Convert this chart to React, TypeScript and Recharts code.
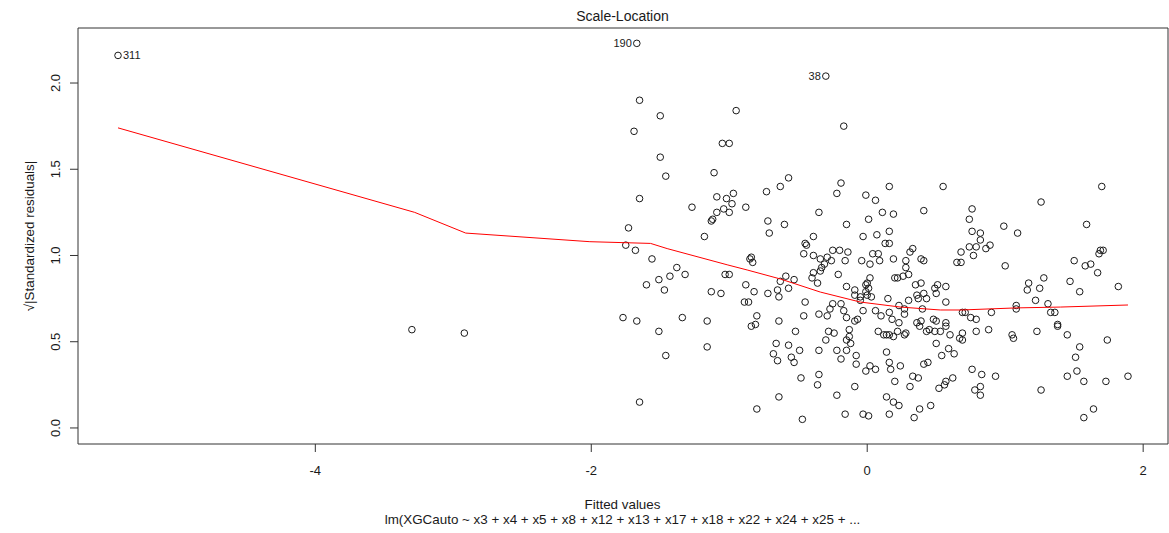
import { ScatterChart, Scatter, XAxis, YAxis, ReferenceArea } from 'recharts';

// axis setup (R-style extended ranges)
const xDomain: [number, number] = [-5.72, 2.18];
const yDomain: [number, number] = [-0.093, 2.319];
const xTicks = [-4, -2, 0, 2];
const yTicks = [0, 0.5, 1, 1.5, 2];

// observations flagged with their row number
const flagged = [
  { id: '311', x: -5.43, y: 2.16 },
  { id: '190', x: -1.67, y: 2.23 },
  { id: '38', x: -0.3, y: 2.04 },
];

// fitted value, sqrt(|standardized residual|)
const residuals: [number, number][] = [
  [-3.3, 0.57], [-2.92, 0.55],
  [-1.65, 1.9], [-1.5, 1.81], [-0.95, 1.84], [-1.69, 1.72], [-1.05, 1.65], [-1.0, 1.65], [-1.5, 1.57],
  [-1.46, 1.46], [-1.11, 1.48], [-1.65, 1.33], [-1.09, 1.34], [-1.02, 1.33], [-0.97, 1.36], [-0.73, 1.37],
  [-0.63, 1.4], [-1.27, 1.28], [-0.98, 1.3], [-0.88, 1.28], [-1.04, 1.27],
  [-0.17, 1.75], [-0.57, 1.45], [-0.19, 1.42], [-0.22, 1.36], [-0.01, 1.35], [0.06, 1.32], [0.16, 1.4],
  [0.55, 1.4], [0.41, 1.26],
  [1.7, 1.4], [1.26, 1.31], [0.76, 1.27],
  [-1.09, 1.25], [-1.0, 1.25], [-1.12, 1.21], [-1.13, 1.2], [-0.72, 1.2], [-0.71, 1.13], [-1.73, 1.16],
  [-1.18, 1.11], [-1.75, 1.06], [-1.68, 1.03], [-1.56, 0.98], [-0.85, 0.98], [-0.84, 0.99], [-0.83, 0.96],
  [-1.38, 0.93], [-1.43, 0.88], [-1.32, 0.89], [-1.51, 0.86], [-1.6, 0.83], [-1.47, 0.8], [-1.03, 0.89],
  [-1.0, 0.89], [-0.88, 0.83], [-0.82, 0.79], [-0.72, 0.78], [-0.65, 0.8], [-0.64, 0.76], [-0.63, 0.85],
  [-1.13, 0.79], [-1.06, 0.78], [-0.89, 0.73], [-0.86, 0.73], [-0.8, 0.65], [-0.81, 0.6], [-0.84, 0.59],
  [-0.64, 0.62], [-1.77, 0.64], [-1.67, 0.62], [-1.34, 0.64], [-1.16, 0.62],
  [-1.51, 0.56], [-1.46, 0.42], [-1.16, 0.47], [-0.66, 0.49], [-0.68, 0.43], [-0.65, 0.39], [-0.64, 0.18],
  [-1.65, 0.15], [-0.8, 0.11],
  [-0.52, 0.56], [-0.28, 0.56], [-0.24, 0.55], [-0.13, 0.57], [-0.13, 0.53], [-0.15, 0.51], [-0.3, 0.51],
  [-0.12, 0.49], [-0.57, 0.48], [-0.49, 0.45], [-0.35, 0.45], [-0.22, 0.45], [-0.15, 0.45], [-0.55, 0.41],
  [-0.53, 0.38], [-0.19, 0.4], [-0.08, 0.42], [-0.08, 0.37], [-0.48, 0.29], [-0.35, 0.31], [-0.36, 0.25],
  [-0.09, 0.24], [-0.22, 0.19], [-0.16, 0.08], [-0.03, 0.08], [0.01, 0.07], [-0.47, 0.05], [-0.01, 0.33],
  [0.02, 0.36], [0.06, 0.34], [0.08, 0.56], [0.12, 0.54], [0.14, 0.54], [0.16, 0.54], [0.19, 0.53],
  [0.22, 0.56], [0.27, 0.54], [0.28, 0.55], [0.14, 0.44], [0.16, 0.38], [0.17, 0.34], [0.24, 0.36],
  [0.2, 0.27], [0.14, 0.18], [0.19, 0.15], [0.23, 0.13], [0.16, 0.08], [0.34, 0.06], [0.33, 0.3],
  [0.37, 0.29], [0.31, 0.24], [0.38, 0.11], [0.46, 0.13], [0.41, 0.37], [0.44, 0.38], [0.5, 0.49],
  [0.54, 0.42], [0.59, 0.46], [0.63, 0.43], [0.6, 0.54], [0.38, 0.59], [0.43, 0.56], [0.45, 0.57],
  [0.49, 0.56], [0.53, 0.56], [0.57, 0.59], [0.67, 0.52], [0.57, 0.27], [0.56, 0.25], [0.52, 0.23],
  [0.62, 0.29],
  [0.69, 0.55], [0.69, 0.51], [0.79, 0.56], [0.88, 0.57], [1.05, 0.54], [1.06, 0.52], [1.23, 0.56],
  [1.38, 0.59], [1.45, 0.54], [1.74, 0.51], [1.54, 0.47], [1.51, 0.41], [0.76, 0.34], [0.83, 0.31],
  [0.93, 0.3], [1.45, 0.3], [1.52, 0.33], [1.57, 0.27], [1.73, 0.27], [1.89, 0.3], [0.78, 0.22],
  [0.82, 0.24], [0.82, 0.19], [1.26, 0.22], [1.64, 0.11], [1.57, 0.06],
  [0.74, 1.21], [0.76, 1.14], [0.82, 1.13], [0.82, 1.09], [0.99, 1.17], [1.09, 1.13], [0.74, 1.05],
  [0.79, 1.05], [0.86, 1.04], [0.89, 1.06], [0.77, 1.0], [0.68, 1.02], [0.68, 0.96], [1.0, 0.94],
  [1.59, 1.18], [1.68, 1.01], [1.69, 1.03], [1.71, 1.03], [1.5, 0.97], [1.58, 0.94], [1.62, 0.95],
  [1.67, 0.9], [1.28, 0.87], [1.17, 0.84], [1.16, 0.8], [1.25, 0.81], [1.47, 0.85], [1.54, 0.79],
  [1.82, 0.82], [1.22, 0.74], [1.31, 0.72], [1.08, 0.71], [1.08, 0.69], [1.33, 0.67], [1.36, 0.67],
  [0.9, 0.67], [0.71, 0.67], [0.69, 0.67], [0.75, 0.64], [0.79, 0.63], [1.38, 0.6],
  [-0.35, 1.25], [0.11, 1.25], [0.19, 1.24], [-0.6, 1.18], [-0.15, 1.18], [0.01, 1.21], [0.16, 1.14],
  [0.07, 1.12], [-0.03, 1.11], [0.13, 1.07], [0.16, 1.07], [-0.39, 1.11], [-0.45, 1.07], [-0.44, 1.06],
  [-0.46, 1.01], [-0.39, 1.0], [-0.34, 0.98], [-0.29, 0.99], [-0.25, 1.03], [-0.2, 1.03], [-0.14, 1.02],
  [-0.26, 0.97], [-0.16, 0.97], [-0.04, 0.97], [0.04, 1.01], [0.08, 1.01], [0.09, 0.97], [0.02, 0.95],
  [0.19, 0.98], [0.28, 0.97], [0.31, 1.02], [0.33, 1.04], [0.39, 0.98], [0.41, 0.97], [0.28, 0.93],
  [-0.31, 0.95], [-0.33, 0.93], [-0.34, 0.91], [-0.39, 0.9], [-0.4, 0.87], [-0.36, 0.84], [-0.59, 0.88],
  [-0.53, 0.86], [-0.57, 0.81], [-0.21, 0.89], [-0.15, 0.82], [0.02, 0.87], [0.0, 0.84], [-0.01, 0.83],
  [0.01, 0.81], [-0.09, 0.8], [-0.01, 0.79], [0.0, 0.77], [-0.09, 0.77], [-0.05, 0.76], [0.03, 0.76],
  [-0.05, 0.74], [0.2, 0.87], [0.22, 0.87], [0.26, 0.88], [0.3, 0.89], [0.35, 0.83], [0.39, 0.84],
  [0.49, 0.81], [0.51, 0.83], [0.57, 0.82], [0.41, 0.78], [0.36, 0.77], [0.37, 0.75], [0.3, 0.74],
  [0.43, 0.75], [0.5, 0.78], [0.57, 0.73], [0.15, 0.75], [0.23, 0.71], [-0.45, 0.73], [-0.25, 0.72],
  [-0.19, 0.72], [-0.17, 0.68], [-0.27, 0.69], [-0.03, 0.68], [0.06, 0.68], [0.16, 0.67], [0.27, 0.69],
  [0.27, 0.66], [0.4, 0.69], [-0.46, 0.65], [-0.35, 0.66], [-0.29, 0.65], [-0.15, 0.64], [-0.07, 0.63],
  [-0.09, 0.62], [0.1, 0.65], [0.18, 0.63], [0.23, 0.61], [0.36, 0.61], [0.39, 0.62], [0.48, 0.63],
  [0.5, 0.62], [0.57, 0.61], [0.65, 0.96],
];

// lowess smoother
const smoothX = [-5.43, -3.28, -2.91, -2.01, -1.57, -1.45, -1.01, -0.87, -0.63, -0.34, -0.05, 0.24, 0.53, 0.68, 1.08, 1.4, 1.89];
const smoothY = [1.74, 1.25, 1.13, 1.08, 1.07, 1.04, 0.945, 0.916, 0.864, 0.788, 0.73, 0.701, 0.684, 0.684, 0.696, 0.701, 0.713];

const points = residuals.map(([x, y]) => ({ x, y }));
const smooth = smoothX.map((x, i) => ({ x, y: smoothY[i] }));

const FONT = "'Liberation Sans', Arial, sans-serif";
const INK = '#1a1a1a';
const R = 3.3;

const Ring = (props: any) => (
  <circle cx={props.cx} cy={props.cy} r={R} fill="none" stroke={INK} strokeWidth={1} />
);

const FlaggedRing = (props: any) => {
  const { cx, cy, payload } = props;
  const onLeft = payload.x > (xDomain[0] + xDomain[1]) / 2;
  return (
    <g>
      <circle cx={cx} cy={cy} r={R} fill="none" stroke={INK} strokeWidth={1} />
      <text
        x={onLeft ? cx - 5 : cx + 5}
        y={cy}
        dy="0.36em"
        textAnchor={onLeft ? 'end' : 'start'}
        fontSize={11}
        fill={INK}
      >
        {payload.id}
      </text>
    </g>
  );
};

const NoDot = () => <g />;

const YTick = (props: any) => {
  const { y, payload } = props;
  return (
    <text x={60} y={y} transform={`rotate(-90 60 ${y})`} textAnchor="middle" fontSize={13} fill={INK}>
      {payload.value.toFixed(1)}
    </text>
  );
};

export default function App() {
  return (
    <div style={{ position: 'absolute', left: 0, top: 0, width: 1169, height: 533, background: '#fff', fontFamily: FONT }}>
      <ScatterChart width={1169} height={533} margin={{ top: 28, right: 1, bottom: 39, left: 0 }}>
        <XAxis
          type="number"
          dataKey="x"
          domain={xDomain}
          ticks={xTicks}
          allowDataOverflow
          axisLine={false}
          tickSize={8}
          tickMargin={14}
          height={50}
          tickLine={{ stroke: '#333' }}
          tick={{ fontSize: 13, fill: INK }}
        />
        <YAxis
          type="number"
          dataKey="y"
          domain={yDomain}
          ticks={yTicks}
          allowDataOverflow
          axisLine={false}
          tickSize={8}
          width={78}
          tickLine={{ stroke: '#333' }}
          tick={<YTick />}
        />
        <Scatter data={points} shape={<Ring />} isAnimationActive={false} />
        <Scatter data={flagged} shape={<FlaggedRing />} isAnimationActive={false} />
        <Scatter
          data={smooth}
          line={{ stroke: '#ff0000', strokeWidth: 1 }}
          lineType="joint"
          shape={<NoDot />}
          isAnimationActive={false}
        />
        <ReferenceArea x1={xDomain[0]} x2={xDomain[1]} y1={yDomain[0]} y2={yDomain[1]} fill="none" stroke="#333" strokeWidth={1} />
      </ScatterChart>
      <svg width={1169} height={533} style={{ position: 'absolute', left: 0, top: 0, pointerEvents: 'none' }}>
        <text x={622.5} y={21} textAnchor="middle" fontSize={14} fill={INK} fontFamily={FONT}>
          Scale-Location
        </text>
        <text x={622.5} y={509} textAnchor="middle" fontSize={13.4} fill={INK} fontFamily={FONT}>
          Fitted values
        </text>
        <text x={622.5} y={524} textAnchor="middle" fontSize={13.4} fill={INK} fontFamily={FONT}>
          lm(XGCauto ~ x3 + x4 + x5 + x8 + x12 + x13 + x17 + x18 + x22 + x24 + x25 +  ...
        </text>
        <text x={34} y={236} transform="rotate(-90 34 236)" textAnchor="middle" fontSize={13.4} fill={INK} fontFamily={FONT}>
          √|Standardized residuals|
        </text>
      </svg>
    </div>
  );
}
